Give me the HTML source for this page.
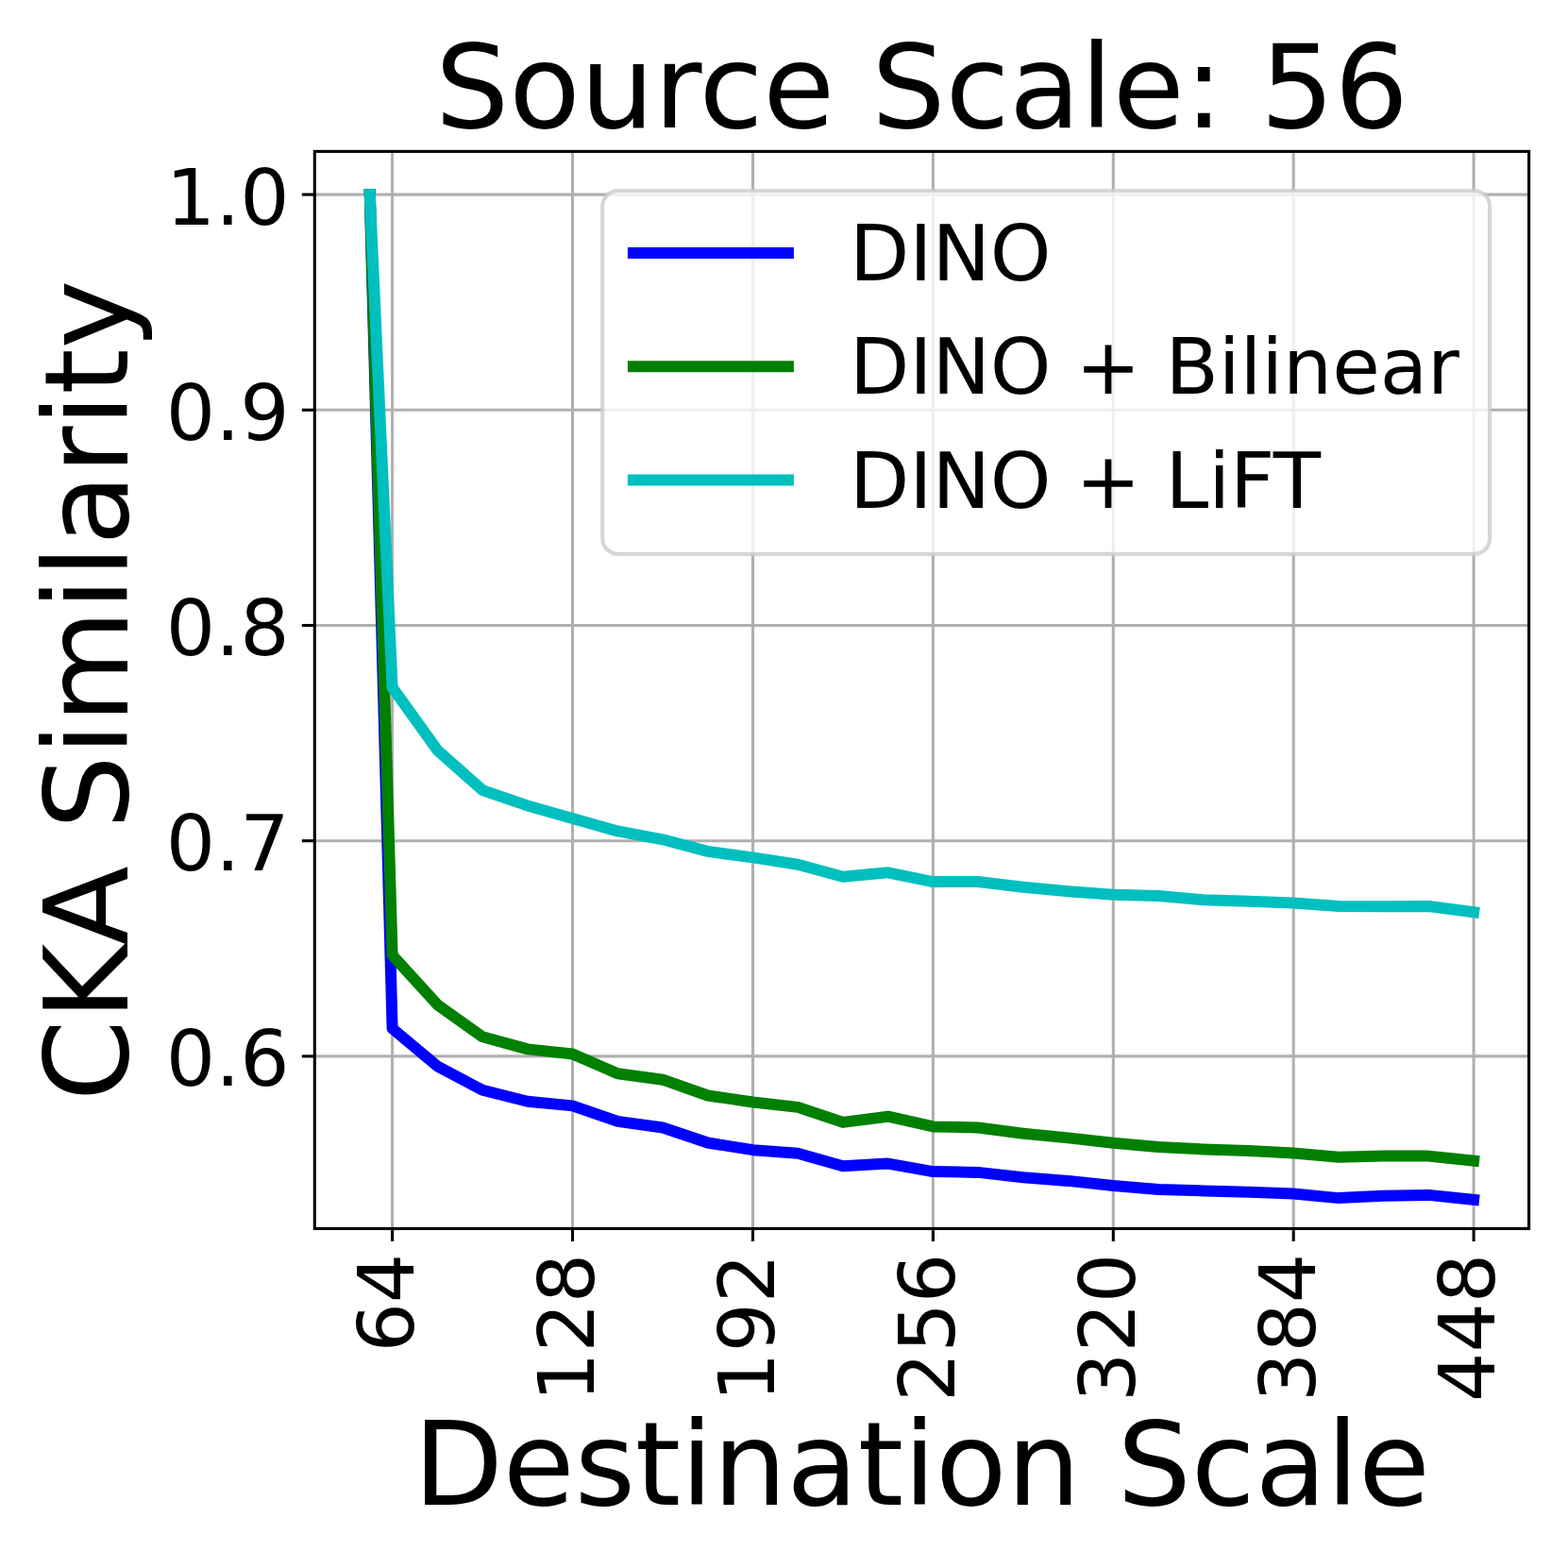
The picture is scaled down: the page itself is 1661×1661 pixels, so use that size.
<!DOCTYPE html>
<html lang="en"><head><meta charset="utf-8"><title>Source Scale: 56</title>
<style>html,body{margin:0;padding:0;background:#fff}body{width:1661px;height:1661px;overflow:hidden}svg{display:block}text{font-family:"DejaVu Sans","Liberation Sans",sans-serif;fill:#000}</style></head><body>
<svg width="1661" height="1661" viewBox="0 0 1661 1661">
<defs><clipPath id="ax"><rect x="333.3" y="160.4" width="1286.3" height="1141.1"/></clipPath></defs>
<rect width="1661" height="1661" fill="#fff"/>
<g stroke="#b0b0b0" stroke-width="3.10" fill="none"><line x1="415.6" y1="160.4" x2="415.6" y2="1301.5"/><line x1="606.5" y1="160.4" x2="606.5" y2="1301.5"/><line x1="797.5" y1="160.4" x2="797.5" y2="1301.5"/><line x1="988.4" y1="160.4" x2="988.4" y2="1301.5"/><line x1="1179.3" y1="160.4" x2="1179.3" y2="1301.5"/><line x1="1370.2" y1="160.4" x2="1370.2" y2="1301.5"/><line x1="1561.1" y1="160.4" x2="1561.1" y2="1301.5"/><line x1="333.3" y1="206.1" x2="1619.6" y2="206.1"/><line x1="333.3" y1="434.3" x2="1619.6" y2="434.3"/><line x1="333.3" y1="662.5" x2="1619.6" y2="662.5"/><line x1="333.3" y1="890.7" x2="1619.6" y2="890.7"/><line x1="333.3" y1="1118.9" x2="1619.6" y2="1118.9"/></g>
<g clip-path="url(#ax)" fill="none" stroke-width="12.00" stroke-linecap="square" stroke-linejoin="round">
<polyline stroke="#0000ff" points="391.8,206.1 415.6,1089.5 463.4,1129.5 511.1,1154.8 558.8,1166.7 606.5,1171.4 654.3,1187.9 702.0,1194.5 749.7,1210.5 797.5,1218.2 845.2,1221.8 892.9,1235.2 940.7,1232.6 988.4,1241.1 1036.1,1241.9 1083.8,1247.3 1131.6,1250.9 1179.3,1256.0 1227.0,1259.9 1274.8,1261.4 1322.5,1262.7 1370.2,1264.5 1417.9,1269.1 1465.7,1266.8 1513.4,1265.9 1561.1,1270.9"/>
<polyline stroke="#008000" points="391.8,206.1 415.6,1011.9 463.4,1064.3 511.1,1098.3 558.8,1111.4 606.5,1116.5 654.3,1137.2 702.0,1143.7 749.7,1160.5 797.5,1167.5 845.2,1172.9 892.9,1188.9 940.7,1182.7 988.4,1193.4 1036.1,1194.5 1083.8,1200.8 1131.6,1205.4 1179.3,1210.8 1227.0,1215.1 1274.8,1217.5 1322.5,1218.9 1370.2,1221.6 1417.9,1225.7 1465.7,1224.5 1513.4,1224.6 1561.1,1229.7"/>
<polyline stroke="#00bfbf" points="391.8,206.1 415.6,728.2 463.4,794.7 511.1,837.1 558.8,853.4 606.5,866.9 654.3,880.4 702.0,889.3 749.7,901.9 797.5,908.4 845.2,915.8 892.9,928.8 940.7,924.3 988.4,934.1 1036.1,934.0 1083.8,939.8 1131.6,944.2 1179.3,947.7 1227.0,949.1 1274.8,953.2 1322.5,954.8 1370.2,956.4 1417.9,960.1 1465.7,960.2 1513.4,960.0 1561.1,966.2"/>
</g>
<g stroke="#000" stroke-width="3.10" fill="none"><line x1="415.6" y1="1301.5" x2="415.6" y2="1315.0"/><line x1="606.5" y1="1301.5" x2="606.5" y2="1315.0"/><line x1="797.5" y1="1301.5" x2="797.5" y2="1315.0"/><line x1="988.4" y1="1301.5" x2="988.4" y2="1315.0"/><line x1="1179.3" y1="1301.5" x2="1179.3" y2="1315.0"/><line x1="1370.2" y1="1301.5" x2="1370.2" y2="1315.0"/><line x1="1561.1" y1="1301.5" x2="1561.1" y2="1315.0"/><line x1="333.3" y1="206.1" x2="319.8" y2="206.1"/><line x1="333.3" y1="434.3" x2="319.8" y2="434.3"/><line x1="333.3" y1="662.5" x2="319.8" y2="662.5"/><line x1="333.3" y1="890.7" x2="319.8" y2="890.7"/><line x1="333.3" y1="1118.9" x2="319.8" y2="1118.9"/></g>
<rect x="333.3" y="160.4" width="1286.3" height="1141.1" fill="none" stroke="#000" stroke-width="3.10"/>
<g font-size="82.30" text-anchor="end">
<text x="306.7" y="237.5">1.0</text>
<text x="306.7" y="465.7">0.9</text>
<text x="306.7" y="693.9">0.8</text>
<text x="306.7" y="922.1">0.7</text>
<text x="306.7" y="1150.3">0.6</text>
</g>
<g font-size="82.30" text-anchor="end">
<text transform="translate(437.9,1327.8) rotate(-90)">64</text>
<text transform="translate(628.8,1327.8) rotate(-90)">128</text>
<text transform="translate(819.8,1327.8) rotate(-90)">192</text>
<text transform="translate(1010.7,1327.8) rotate(-90)">256</text>
<text transform="translate(1201.6,1327.8) rotate(-90)">320</text>
<text transform="translate(1392.5,1327.8) rotate(-90)">384</text>
<text transform="translate(1583.4,1327.8) rotate(-90)">448</text>
</g>
<text x="976.45" y="134.7" font-size="123.4" letter-spacing="-0.13" text-anchor="middle">Source Scale: 56</text>
<text x="976.45" y="1594.2" font-size="123.4" letter-spacing="-0.14" text-anchor="middle">Destination Scale</text>
<text transform="translate(135.1,731.5) rotate(-90)" font-size="123.4" letter-spacing="-0.14" text-anchor="middle">CKA Similarity</text>
<rect x="638.2" y="202.0" width="939.9" height="384.9" rx="16.7" ry="16.7" fill="#fff" fill-opacity="0.8" stroke="#ccc" stroke-opacity="0.8" stroke-width="4.17"/>
<line x1="670.9" y1="268.0" x2="834.9" y2="268.0" stroke="#0000ff" stroke-width="12.0" stroke-linecap="square"/>
<text x="900.0" y="296.5" font-size="82.3" letter-spacing="-0.11">DINO</text>
<line x1="670.9" y1="388.3" x2="834.9" y2="388.3" stroke="#008000" stroke-width="12.0" stroke-linecap="square"/>
<text x="900.0" y="417.0" font-size="82.3" letter-spacing="-0.11">DINO + Bilinear</text>
<line x1="670.9" y1="508.6" x2="834.9" y2="508.6" stroke="#00bfbf" stroke-width="12.0" stroke-linecap="square"/>
<text x="900.0" y="537.6" font-size="82.3" letter-spacing="-0.11">DINO + LiFT</text>
</svg></body></html>
